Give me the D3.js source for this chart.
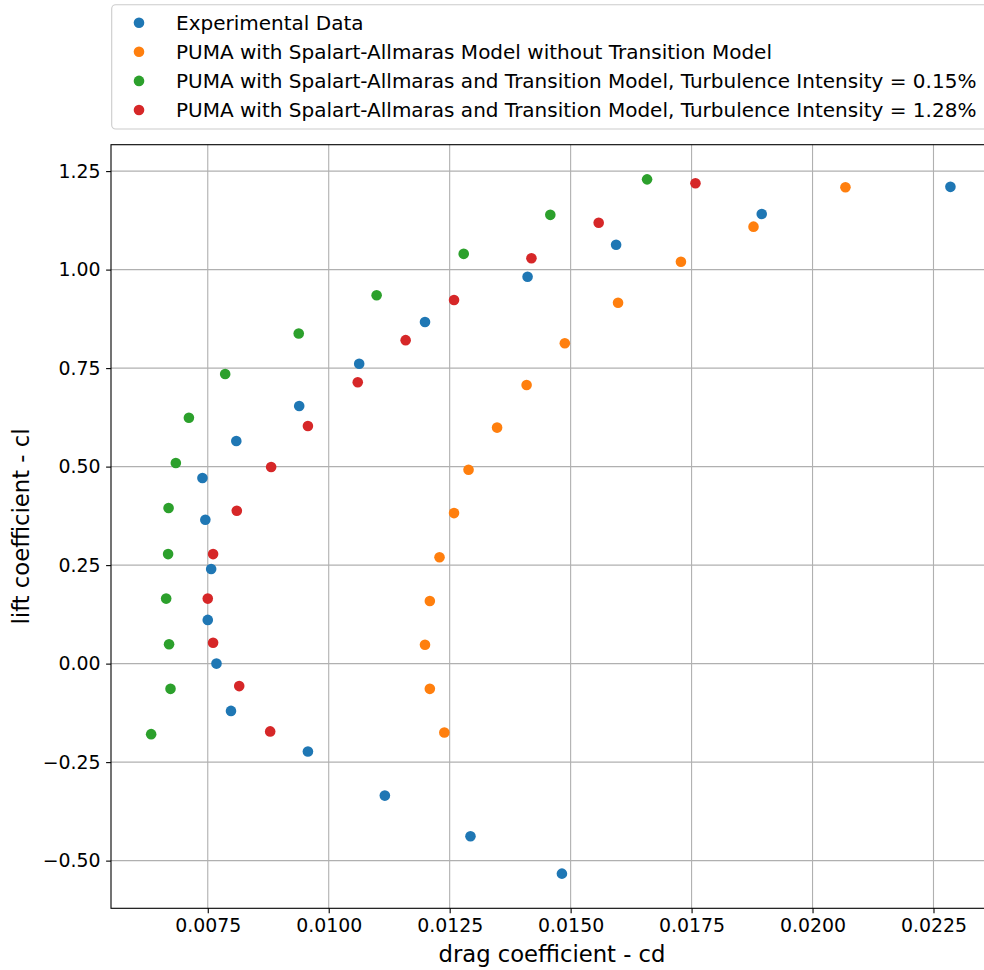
<!DOCTYPE html>
<html>
<head>
<meta charset="utf-8">
<script src="https://cdn.jsdelivr.net/npm/d3@7"></script>
<style>
  html, body { margin: 0; padding: 0; background: #fff; overflow: hidden; }
  svg { display: block; font-family: "DejaVu Sans", sans-serif; }
</style>
</head>
<body>
<svg id="chart" width="984" height="970"></svg>
<script>
// Drag polar: lift coefficient against drag coefficient
const seriesNames = [
  "Experimental Data",
  "PUMA with Spalart-Allmaras Model without Transition Model",
  "PUMA with Spalart-Allmaras and Transition Model, Turbulence Intensity = 0.15%",
  "PUMA with Spalart-Allmaras and Transition Model, Turbulence Intensity = 1.28%"
];
const seriesColors = ["#1f77b4", "#ff7f0e", "#2ca02c", "#d62728"];

const expCd = [0.01482, 0.01293, 0.01116, 0.00957, 0.00798, 0.00768, 0.00750, 0.00757,
               0.00745, 0.00739, 0.00809, 0.00939, 0.01063, 0.01199, 0.01411, 0.01594,
               0.01895, 0.02285];
const expCl = [-0.533, -0.438, -0.335, -0.223, -0.120, 0.000, 0.111, 0.240,
               0.365, 0.471, 0.565, 0.654, 0.761, 0.867, 0.982, 1.063,
               1.141, 1.210];

const saCd = [0.01239, 0.01209, 0.01199, 0.01209, 0.01229, 0.01259, 0.01289, 0.01348,
              0.01409, 0.01488, 0.01598, 0.01728, 0.01878, 0.02068];
const saCl = [-0.175, -0.064, 0.048, 0.159, 0.270, 0.382, 0.492, 0.599,
              0.707, 0.813, 0.916, 1.020, 1.109, 1.209];

const tr015Cd = [0.00633, 0.00673, 0.00670, 0.00664, 0.00668, 0.00669, 0.00684, 0.00711,
                 0.00786, 0.00938, 0.01099, 0.01279, 0.01458, 0.01658];
const tr015Cl = [-0.179, -0.064, 0.049, 0.165, 0.278, 0.395, 0.509, 0.624,
                 0.735, 0.838, 0.935, 1.040, 1.139, 1.229];

const tr128Cd = [0.00879, 0.00815, 0.00761, 0.00750, 0.00761, 0.00810, 0.00881, 0.00957,
                 0.01060, 0.01159, 0.01259, 0.01419, 0.01558, 0.01758];
const tr128Cl = [-0.172, -0.057, 0.053, 0.165, 0.278, 0.388, 0.499, 0.603,
                 0.714, 0.821, 0.923, 1.029, 1.119, 1.219];

const xTicks = [0.0075, 0.0100, 0.0125, 0.0150, 0.0175, 0.0200, 0.0225];
const yTicks = [-0.50, -0.25, 0.00, 0.25, 0.50, 0.75, 1.00, 1.25];

const series = [
  { cd: expCd, cl: expCl },
  { cd: saCd, cl: saCl },
  { cd: tr015Cd, cl: tr015Cl },
  { cd: tr128Cd, cl: tr128Cl }
].map((s, i) => ({
  name: seriesNames[i],
  color: seriesColors[i],
  points: s.cd.map((cd, j) => ({ cd, cl: s.cl[j] }))
}));

const svg = d3.select("#chart");
const plot = { left: 111, right: 993, top: 144.7, bottom: 908.3 };

const x = d3.scaleLinear().domain([0.0055, 0.02373]).range([plot.left, plot.right]);
const y = d3.scaleLinear().domain([-0.621, 1.317]).range([plot.bottom, plot.top]);

const tickFont = 18.9;
const legendFont = 20;
const labelFont = 22.7;
const minus = s => s.replace("-", "\u2212");

// grid
const grid = svg.append("g").attr("stroke", "#b0b0b0").attr("stroke-width", 1.1);
grid.selectAll("line.vx").data(xTicks).join("line")
  .attr("x1", d => x(d)).attr("x2", d => x(d))
  .attr("y1", plot.top).attr("y2", plot.bottom);
grid.selectAll("line.hy").data(yTicks).join("line")
  .attr("x1", plot.left).attr("x2", plot.right)
  .attr("y1", d => y(d)).attr("y2", d => y(d));

// axes
const xAxis = d3.axisBottom(x).tickValues(xTicks).tickFormat(d3.format(".4f"))
  .tickSizeInner(4.9).tickSizeOuter(0).tickPadding(5.5);
const yAxis = d3.axisLeft(y).tickValues(yTicks).tickFormat(d => minus(d3.format(".2f")(d)))
  .tickSizeInner(4.9).tickSizeOuter(0).tickPadding(5.5);

const gx = svg.append("g").attr("transform", `translate(0,${plot.bottom})`).call(xAxis);
const gy = svg.append("g").attr("transform", `translate(${plot.left},0)`).call(yAxis);
[gx, gy].forEach(g => {
  g.select(".domain").remove();
  g.selectAll(".tick line").attr("stroke", "#000").attr("stroke-width", 1.1);
  g.selectAll(".tick text").attr("fill", "#000")
    .style("font-family", "DejaVu Sans").style("font-size", tickFont + "px");
});

// frame
svg.append("rect")
  .attr("x", plot.left).attr("y", plot.top)
  .attr("width", plot.right - plot.left).attr("height", plot.bottom - plot.top)
  .attr("fill", "none").attr("stroke", "#000").attr("stroke-width", 1.1);

// points
svg.append("g").selectAll("g").data(series).join("g")
  .attr("fill", d => d.color)
  .selectAll("circle").data(d => d.points).join("circle")
  .attr("cx", d => x(d.cd)).attr("cy", d => y(d.cl)).attr("r", 5.3);

// axis titles
svg.append("text")
  .attr("x", (plot.left + plot.right) / 2).attr("y", 962)
  .attr("text-anchor", "middle").style("font-size", labelFont + "px")
  .text("drag coefficient - cd");
svg.append("text")
  .attr("transform", `translate(29,${(plot.top + plot.bottom) / 2}) rotate(-90)`)
  .attr("text-anchor", "middle").style("font-size", labelFont + "px")
  .text("lift coefficient - cl");

// legend
const legend = svg.append("g");
legend.append("rect")
  .attr("x", 111.7).attr("y", 4.7).attr("width", 900).attr("height", 124.3)
  .attr("rx", 4).attr("fill", "#fff").attr("fill-opacity", 0.8)
  .attr("stroke", "#cccccc").attr("stroke-width", 1.1);
const rowY = i => 22.7 + i * 29.1;
const rows = legend.selectAll("g.row").data(series).join("g")
  .attr("transform", (d, i) => `translate(0,${rowY(i)})`);
rows.append("circle").attr("cx", 139).attr("cy", 0).attr("r", 5.3).attr("fill", d => d.color);
rows.append("text").attr("x", 176).attr("y", 0).attr("dy", "0.36em")
  .style("font-size", legendFont + "px").text(d => d.name);
</script>
</body>
</html>
